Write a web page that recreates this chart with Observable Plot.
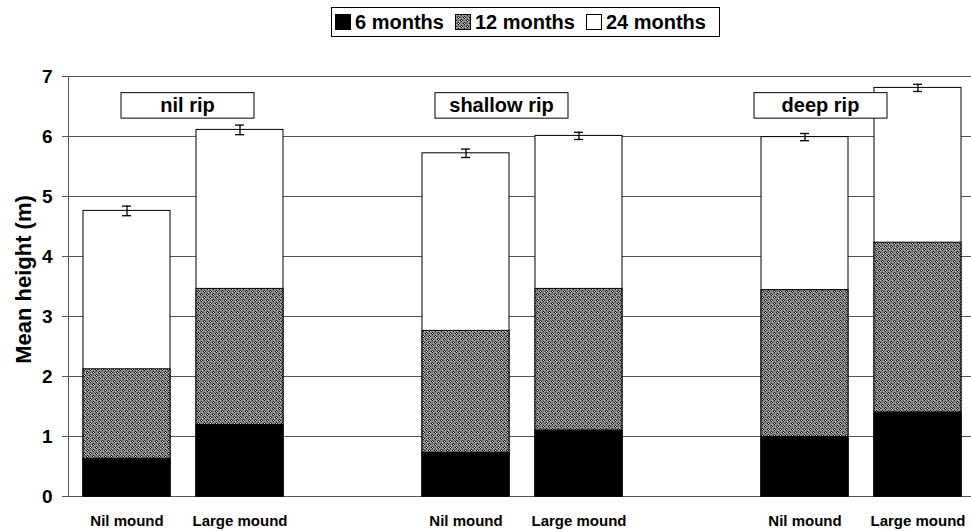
<!DOCTYPE html>
<html>
<head>
<meta charset="utf-8">
<script src="https://cdn.jsdelivr.net/npm/d3@7"></script>
<script src="https://cdn.jsdelivr.net/npm/@observablehq/plot@0.6"></script>
<style>
  body { margin: 0; background: #fff; font-family: "Liberation Sans", Arial, sans-serif; }
  #head { position: relative; width: 971px; height: 45px; }
  #legend { position: absolute; left: 331px; top: 7px; width: 389px; height: 30px; box-sizing: border-box;
    border: 1px solid #000; display: flex; align-items: center; padding: 0 0 0 3px;
    font-weight: bold; font-size: 20px; color: #000; white-space: nowrap; }
  #legend .item { display: flex; align-items: center; margin-right: 11px; }
  #legend .item:last-child { margin-right: 0; }
  #legend svg { margin-right: 4px; display: block; }
  #chart svg { display: block; }
</style>
</head>
<body>
<div id="head"><div id="legend"></div></div>
<div id="chart"></div>
<script>
// ---- data ----
const groups = ["nil rip", "shallow rip", "deep rip"];
const mounds = ["Nil mound", "Large mound"];
const h6  = [0.63, 1.19, 0.73, 1.10, 0.99, 1.40];
const h12 = [2.12, 3.46, 2.76, 3.46, 3.44, 4.23];
const h24 = [4.76, 6.11, 5.72, 6.01, 5.99, 6.81];
const se24 = [0.08, 0.08, 0.07, 0.06, 0.06, 0.06];
const seriesLabels = ["6 months", "12 months", "24 months"];
const yTicks = [0, 1, 2, 3, 4, 5, 6, 7];
const yLabel = "Mean height (m)";

// ---- build table ----
const slots = [];
groups.forEach((g, gi) => {
  if (gi > 0) slots.push("gap" + gi);
  mounds.forEach(m => slots.push(g + "|" + m));
});
const rows = groups.flatMap((g, gi) => mounds.map((m, mi) => {
  const i = gi * 2 + mi;
  return { key: g + "|" + m, group: g, mound: m, h6: h6[i], h12: h12[i], h24: h24[i], se: se24[i] };
}));

function addPattern(sel, id) {
  const p = sel.append("pattern").attr("id", id).attr("patternUnits", "userSpaceOnUse")
    .attr("width", 6).attr("height", 6);
  p.append("rect").attr("width", 6).attr("height", 6).attr("fill", "#808080");
  [[0,0],[3,3]].forEach(([x,y]) => p.append("rect").attr("x", x).attr("y", y).attr("width", 1).attr("height", 1).attr("fill", "#f0f0f0"));
  [[1,0],[0,1],[5,0],[0,5],[4,3],[2,3],[3,2],[3,4]].forEach(([x,y]) => p.append("rect").attr("x", x).attr("y", y).attr("width", 1).attr("height", 1).attr("fill", "#111"));
  [[1,1],[4,4],[1,4],[4,1]].forEach(([x,y]) => p.append("rect").attr("x", x).attr("y", y).attr("width", 1).attr("height", 1).attr("fill", "#b8b8b8"));
}

// ---- legend ----
const legend = d3.select("#legend");
const swFills = ["#000", "url(#p12legend)", "#fff"];
seriesLabels.forEach((lab, i) => {
  const it = legend.append("div").attr("class", "item");
  const s = it.append("svg").attr("width", 16).attr("height", 16);
  if (i === 1) addPattern(s.append("defs"), "p12legend");
  s.append("rect").attr("x", 0.5).attr("y", 0.5).attr("width", 15).attr("height", 15)
    .attr("fill", swFills[i]).attr("stroke", "#000");
  it.append("span").text(lab);
});

// ---- overlay mark: pattern defs, y axis line, annotation boxes ----
const boxShift = [61, 36, 16];
function overlay(index, scales, values, dimensions) {
  const g = d3.create("svg:g");
  addPattern(g.append("defs"), "p12");
  const x = scales.x, y = scales.y;
  const bw = typeof x.bandwidth === "function" ? x.bandwidth() : x.bandwidth;
  g.append("line").attr("x1", dimensions.marginLeft + 0.5).attr("x2", dimensions.marginLeft + 0.5)
    .attr("y1", y(0)).attr("y2", y(7)).attr("stroke", "#555");
  groups.forEach((grp, gi) => {
    const cx = x(grp + "|" + mounds[0]) + bw / 2 + boxShift[gi];
    const cy = y(6.51);
    g.append("rect").attr("x", cx - 66.5).attr("y", cy - 12.75).attr("width", 133).attr("height", 25.5)
      .attr("fill", "#fff").attr("stroke", "#000");
    g.append("text").attr("x", cx).attr("y", cy).attr("dy", "0.35em").attr("text-anchor", "middle")
      .attr("font-size", 20).attr("font-weight", "bold").attr("fill", "#000").text(grp);
  });
  return g.node();
}

const chart = Plot.plot({
  width: 971,
  height: 487,
  marginLeft: 68,
  marginRight: 0,
  marginTop: 31,
  marginBottom: 36,
  style: { fontFamily: "Liberation Sans, Arial, sans-serif", background: "#fff", color: "#000" },
  x: { type: "band", domain: slots, range: [68, 976], paddingInner: 0.233, paddingOuter: 0.1165, axis: null },
  y: { domain: [0, 7], axis: null },
  marks: [
    Plot.ruleY(yTicks, { stroke: "#555", strokeWidth: 1 }),
    Plot.axisY(yTicks, { tickSize: 6, tickPadding: 10, fontSize: 19, fontWeight: "bold", stroke: "#555", label: null,
      tickFormat: d3.format("d") }),
    Plot.axisX(slots, { tickSize: 0, tickPadding: 19, fontSize: 15, fontWeight: "bold", label: null,
      tickFormat: d => d.includes("|") ? d.split("|")[1] : "" }),
    Plot.text([yLabel], { frameAnchor: "left", textAnchor: "middle", rotate: -90, dx: -45, dy: -7,
      fontSize: 22, fontWeight: "bold", fill: "#000" }),
    Plot.barY(rows, { x: "key", y1: 0, y2: "h24", fill: "#fff", stroke: "#000", strokeWidth: 1 }),
    Plot.barY(rows, { x: "key", y1: 0, y2: "h12", fill: "url(#p12)", stroke: "#000", strokeWidth: 1 }),
    Plot.barY(rows, { x: "key", y1: 0, y2: "h6", fill: "#000", stroke: "#000", strokeWidth: 1 }),
    Plot.ruleX(rows, { x: "key", y1: d => d.h24 - d.se, y2: d => d.h24 + d.se, stroke: "#000", strokeWidth: 1.3 }),
    Plot.tickY(rows, { x: "key", y: d => d.h24 - d.se, insetLeft: 39, insetRight: 39, stroke: "#000", strokeWidth: 1.3 }),
    Plot.tickY(rows, { x: "key", y: d => d.h24 + d.se, insetLeft: 39, insetRight: 39, stroke: "#000", strokeWidth: 1.3 }),
    overlay
  ]
});
document.getElementById("chart").appendChild(chart);
</script>
</body>
</html>
